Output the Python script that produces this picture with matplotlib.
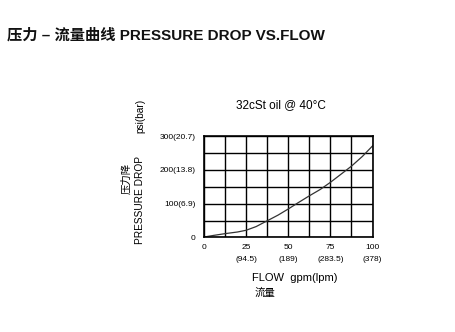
import matplotlib
matplotlib.use('Agg')
import matplotlib.pyplot as plt
import numpy as np

plt.rcParams['font.family'] = ['Liberation Sans', 'Noto Sans CJK SC', 'DejaVu Sans']

# curve
flow_gpm = [0, 6, 12.5, 20, 25, 31, 37.5, 44, 50, 56, 62.5, 69, 75, 81, 87.5, 94, 100]
drop_psi = [1, 6, 11, 16, 21, 32, 49, 66, 84, 103, 123, 142, 163, 186, 211, 240, 271]

x_ticks = [0, 25, 50, 75, 100]
x_labels = ['0', '25\n(94.5)', '50\n(189)', '75\n(283.5)', '100\n(378)']
y_ticks = [0, 100, 200, 300]
y_labels = ['0', '100(6.9)', '200(13.8)', '300(20.7)']

fig = plt.figure(figsize=(4.56, 3.32), dpi=100)
ax = fig.add_axes([0.447, 0.285, 0.37, 0.305])

ax.plot(flow_gpm, drop_psi, color='#333333', lw=0.9)
ax.set_xlim(0, 100)
ax.set_ylim(0, 300)

ax.set_xticks(x_ticks)
ax.set_xticklabels(x_labels, fontsize=6, linespacing=1.9)
ax.set_yticks(y_ticks)
ax.set_yticklabels(y_labels, fontsize=6)
ax.set_xticks(np.arange(0, 101, 12.5), minor=True)
ax.set_yticks(np.arange(0, 301, 50), minor=True)
ax.tick_params(which='both', length=0)
ax.tick_params(axis='x', pad=5)
ax.tick_params(axis='y', pad=6)
ax.grid(which='both', color='black', lw=1.0)
for s in ax.spines.values():
    s.set_linewidth(1.2)

fig.text(0.015, 0.893, '压力 – 流量曲线 PRESSURE DROP VS.FLOW', fontsize=11,
         fontweight='bold', va='center', color='#111111')
fig.text(0.617, 0.683, '32cSt oil @ 40°C', fontsize=8.5, ha='center', va='center')
fig.text(0.307, 0.398, 'PRESSURE DROP', fontsize=7.3, rotation=90,
         ha='center', va='center')
fig.text(0.307, 0.652, 'psi(bar)', fontsize=7.3, rotation=90,
         ha='center', va='center')
fig.text(0.277, 0.464, '压力降', fontsize=7.5, rotation=90, ha='center', va='center')
fig.text(0.553, 0.163, 'FLOW  gpm(lpm)', fontsize=8, ha='left', va='center')
fig.text(0.558, 0.118, '流量', fontsize=7.5, ha='left', va='center')

fig.savefig('out.png', dpi=100)
